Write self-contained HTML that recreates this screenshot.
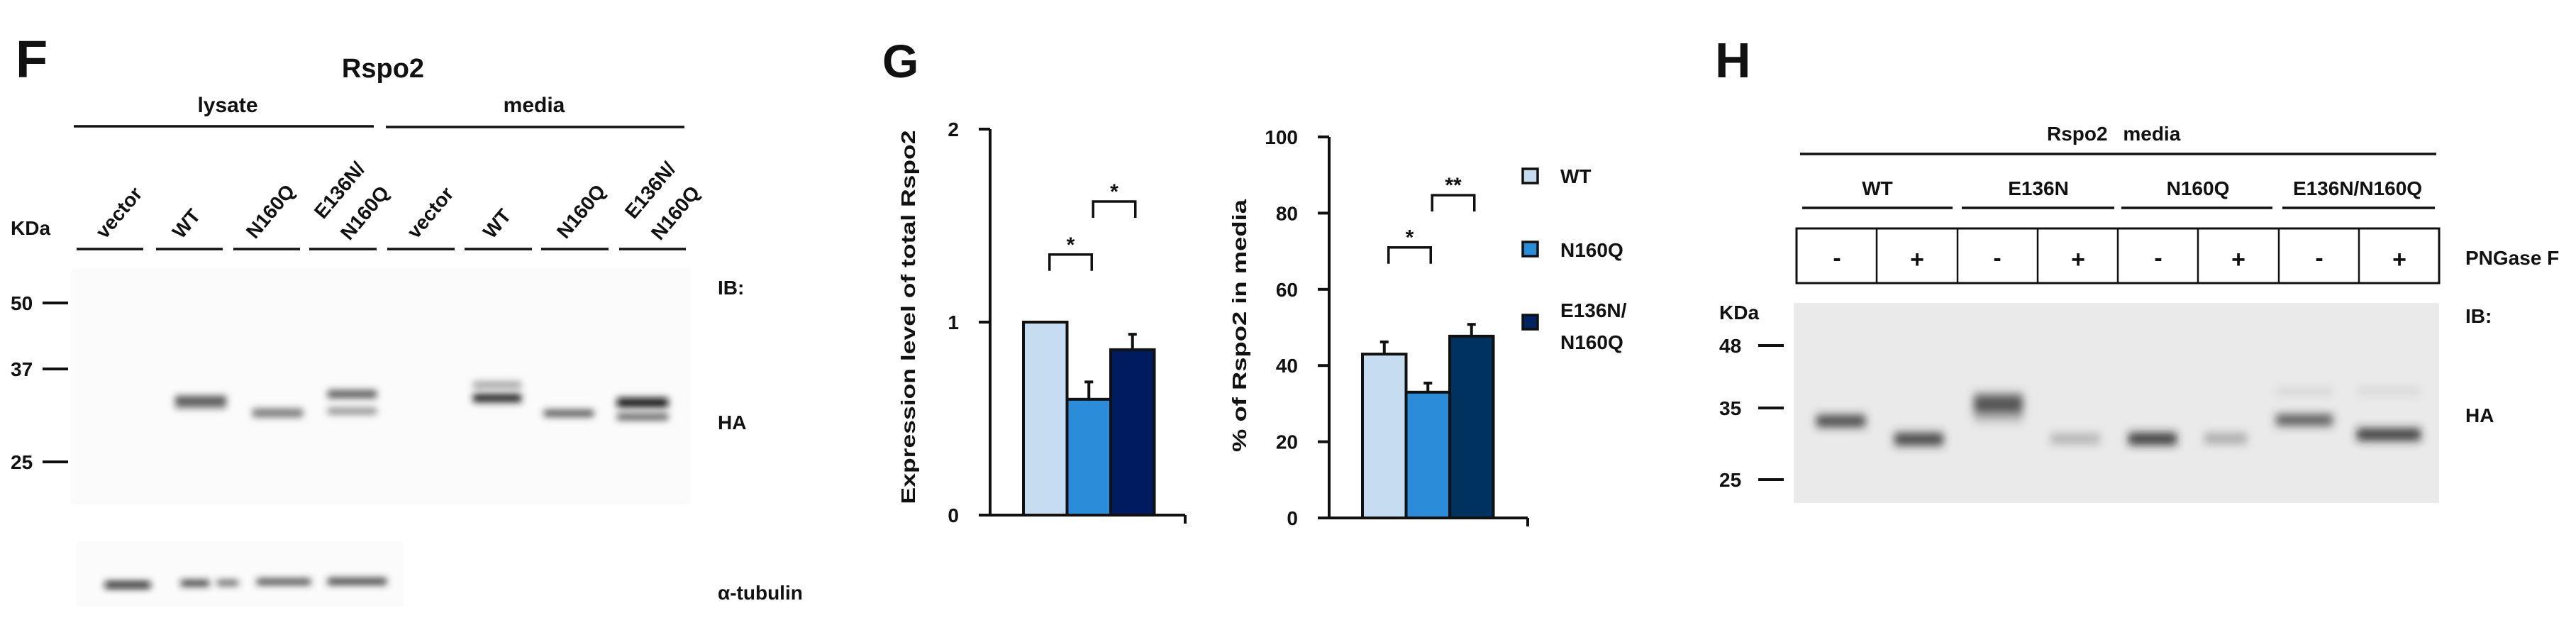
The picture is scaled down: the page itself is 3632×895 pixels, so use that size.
<!DOCTYPE html>
<html><head><meta charset="utf-8"><style>
html,body{margin:0;padding:0;background:#fff;}
svg{display:block;}
text{font-family:"Liberation Sans",sans-serif;fill:#111;font-weight:bold;}
.b{font-weight:bold;}
</style></head><body>
<svg width="3632" height="895" viewBox="0 0 3632 895" xmlns="http://www.w3.org/2000/svg">
<defs>
<filter id="blur" x="-30%" y="-200%" width="160%" height="500%"><feGaussianBlur stdDeviation="5 5"/></filter>
<filter id="blur2" x="-30%" y="-200%" width="160%" height="500%"><feGaussianBlur stdDeviation="6 7"/></filter>
</defs>

<!-- ================= Panel F ================= -->
<g>
<text x="22" y="109" class="b" font-size="74">F</text>
<text x="540" y="109" class="b" font-size="38" text-anchor="middle">Rspo2</text>
<text x="321" y="158" font-size="30" text-anchor="middle">lysate</text>
<text x="753" y="158" font-size="30" text-anchor="middle">media</text>
<line x1="104" y1="178" x2="527" y2="178" stroke="#111" stroke-width="3.5"/>
<line x1="544" y1="179" x2="965" y2="179" stroke="#111" stroke-width="3.5"/>
<g stroke="#111" stroke-width="3.5">
<line x1="108" y1="351" x2="202" y2="351"/><line x1="220" y1="351" x2="314" y2="351"/>
<line x1="329" y1="351" x2="423" y2="351"/><line x1="436" y1="351" x2="531" y2="351"/>
<line x1="546" y1="351" x2="641" y2="351"/><line x1="655" y1="351" x2="750" y2="351"/>
<line x1="763" y1="351" x2="858" y2="351"/><line x1="873" y1="351" x2="967" y2="351"/>
</g>
<g font-size="28" class="b">
<text transform="translate(148,338) rotate(-50)">vector</text>
<text transform="translate(256,338) rotate(-50)">WT</text>
<text transform="translate(360,338) rotate(-50)">N160Q</text>
<text transform="translate(456,310) rotate(-50)">E136N/</text>
<text transform="translate(493,340) rotate(-50)">N160Q</text>
<text transform="translate(587,338) rotate(-50)">vector</text>
<text transform="translate(694,338) rotate(-50)">WT</text>
<text transform="translate(798,338) rotate(-50)">N160Q</text>
<text transform="translate(894,310) rotate(-50)">E136N/</text>
<text transform="translate(931,340) rotate(-50)">N160Q</text>
</g>
<text x="15" y="331" font-size="28">KDa</text>
<g font-size="28" class="b">
<text x="15" y="437">50</text><line x1="60" y1="427" x2="96" y2="427" stroke="#111" stroke-width="4"/>
<text x="15" y="530">37</text><line x1="60" y1="520" x2="96" y2="520" stroke="#111" stroke-width="4"/>
<text x="15" y="661">25</text><line x1="60" y1="651" x2="96" y2="651" stroke="#111" stroke-width="4"/>
</g>
<rect x="100" y="379" width="873" height="332" fill="#fbfbfb"/>
<g filter="url(#blur)">
<rect x="247" y="558" width="72" height="12" fill="#555"/>
<rect x="247" y="570" width="72" height="6" fill="#888"/>
<rect x="356" y="576" width="71" height="12" fill="#777"/>
<rect x="462" y="550" width="69" height="11" fill="#555"/>
<rect x="462" y="575" width="69" height="9" fill="#888"/>
<rect x="667" y="538" width="68" height="9" fill="#999"/>
<rect x="667" y="555" width="68" height="12" fill="#222"/>
<rect x="767" y="578" width="70" height="9" fill="#444"/>
<rect x="870" y="561" width="72" height="13" fill="#111"/>
<rect x="870" y="583" width="72" height="9" fill="#555"/>
</g>
<rect x="108" y="763" width="461" height="92" fill="#fbfbfb"/>
<g filter="url(#blur)">
<rect x="148" y="820" width="64" height="9" fill="#111"/>
<rect x="255" y="818" width="40" height="8" fill="#222"/>
<rect x="306" y="818" width="30" height="7" fill="#444"/>
<rect x="362" y="816" width="76" height="8" fill="#333"/>
<rect x="462" y="815" width="83" height="9" fill="#333"/>
</g>
<text x="1012" y="415" font-size="28">IB:</text>
<text x="1012" y="605" font-size="28">HA</text>
<text x="1012" y="845" font-size="28">α-tubulin</text>
</g>

<!-- ================= Panel G ================= -->
<g>
<text x="1244" y="109" class="b" font-size="66">G</text>
<text transform="translate(1290,447) rotate(-90)" font-size="28" class="b" text-anchor="middle" textLength="527" lengthAdjust="spacingAndGlyphs">Expression level of total Rspo2</text>
<text transform="translate(1757,459) rotate(-90)" font-size="28" class="b" text-anchor="middle" textLength="356" lengthAdjust="spacingAndGlyphs">% of Rspo2 in media</text>
<g id="chartL"></g>
<g id="chartR"></g>
<g>
<rect x="2147" y="238" width="21" height="20" fill="#c6dcf1" stroke="#111" stroke-width="3.5"/>
<text x="2200" y="258" font-size="28" class="b">WT</text>
<rect x="2147" y="341" width="21" height="20" fill="#2b8cd9" stroke="#111" stroke-width="3.5"/>
<text x="2200" y="362" font-size="28" class="b">N160Q</text>
<rect x="2147" y="444" width="21" height="20" fill="#00245f" stroke="#111" stroke-width="3.5"/>
<text x="2200" y="447" font-size="28" class="b">E136N/</text>
<text x="2200" y="492" font-size="28" class="b">N160Q</text>
</g>
</g>

<!-- ================= Panel H ================= -->
<g>
<text x="2418" y="109" class="b" font-size="70">H</text>
<text x="2886" y="198" font-size="28">Rspo2 <tspan dx="14">media</tspan></text>
<line x1="2538" y1="217" x2="3435" y2="217" stroke="#111" stroke-width="3.5"/>
<g font-size="28" text-anchor="middle">
<text x="2647" y="275">WT</text><text x="2874" y="275">E136N</text>
<text x="3099" y="275">N160Q</text><text x="3324" y="275">E136N/N160Q</text>
</g>
<g stroke="#111" stroke-width="3.5">
<line x1="2541" y1="293" x2="2753" y2="293"/><line x1="2766" y1="293" x2="2981" y2="293"/>
<line x1="2991" y1="293" x2="3204" y2="293"/><line x1="3218" y1="293" x2="3433" y2="293"/>
</g>
<g>
<rect x="2533" y="322" width="906" height="77" fill="none" stroke="#111" stroke-width="3"/>
<g stroke="#111" stroke-width="2.5">
<line x1="2646" y1="322" x2="2646" y2="399"/><line x1="2760" y1="322" x2="2760" y2="399"/>
<line x1="2873" y1="322" x2="2873" y2="399"/><line x1="2986" y1="322" x2="2986" y2="399"/>
<line x1="3099" y1="322" x2="3099" y2="399"/><line x1="3213" y1="322" x2="3213" y2="399"/>
<line x1="3326" y1="322" x2="3326" y2="399"/>
</g>
<g font-size="34" class="b" text-anchor="middle">
<text x="2590" y="375">-</text><text x="2703" y="377">+</text>
<text x="2816" y="375">-</text><text x="2930" y="377">+</text>
<text x="3043" y="375">-</text><text x="3156" y="377">+</text>
<text x="3270" y="375">-</text><text x="3383" y="377">+</text>
</g>
</g>
<text x="3476" y="373" font-size="28">PNGase F</text>
<rect x="2529" y="427" width="910" height="282" fill="#eaeaea"/>
<g filter="url(#blur2)">
<rect x="2561" y="586" width="69" height="15" fill="#333"/>
<rect x="2671" y="611" width="69" height="16" fill="#333"/>
<rect x="2783" y="556" width="69" height="28" fill="#555"/>
<rect x="2783" y="585" width="69" height="10" fill="#bbb"/>
<rect x="2891" y="612" width="70" height="13" fill="#aaa"/>
<rect x="3001" y="611" width="68" height="15" fill="#222"/>
<rect x="3108" y="612" width="60" height="12" fill="#999"/>
<rect x="3209" y="548" width="80" height="8" fill="#ccc"/>
<rect x="3209" y="585" width="80" height="14" fill="#444"/>
<rect x="3323" y="548" width="90" height="7" fill="#ccc"/>
<rect x="3323" y="605" width="90" height="15" fill="#222"/>
</g>
<text x="2424" y="450" font-size="28">KDa</text>
<g font-size="28" class="b">
<text x="2424" y="497">48</text><line x1="2479" y1="487" x2="2515" y2="487" stroke="#111" stroke-width="4"/>
<text x="2424" y="585">35</text><line x1="2479" y1="575" x2="2515" y2="575" stroke="#111" stroke-width="4"/>
<text x="2424" y="686">25</text><line x1="2479" y1="676" x2="2515" y2="676" stroke="#111" stroke-width="4"/>
</g>
<text x="3476" y="455" font-size="28">IB:</text>
<text x="3476" y="595" font-size="28">HA</text>
</g>
</svg>

<script>
// ----- Chart G data -----
const categories = ["WT", "N160Q", "E136N/N160Q"];
const expressionValues = [1.0, 0.60, 0.857];
const expressionErrors = [0, 0.09, 0.08];
const mediaValues = [43.0, 33.0, 47.7];
const mediaErrors = [3.2, 2.4, 3.1];
const expressionTicks = [0, 1, 2];
const mediaTicks = [0, 20, 40, 60, 80, 100];
const expressionSig = [{from: 0, to: 1, level: 1.35, label: "*"}, {from: 1, to: 2, level: 1.625, label: "*"}];
const mediaSig = [{from: 0, to: 1, level: 71, label: "*"}, {from: 1, to: 2, level: 84.7, label: "**"}];

const NS = "http://www.w3.org/2000/svg";
function mk(tag, attrs, parent) {
  const e = document.createElementNS(NS, tag);
  for (const k in attrs) e.setAttribute(k, attrs[k]);
  parent.appendChild(e);
  return e;
}

function drawChart(g, cfg) {
  const y = v => cfg.y0 - (v - 0) / cfg.max * (cfg.y0 - cfg.yTop);
  const x = i => cfg.barX0 + i * cfg.barW;
  const ya = mk("line", {x1: cfg.axisX, y1: y(cfg.max), x2: cfg.axisX, y2: cfg.y0 + 2, stroke: "#111", "stroke-width": 4}, g);
  
  
  const xa = mk("line", {x1: cfg.axisX - 16, y1: cfg.y0, x2: cfg.xEnd, y2: cfg.y0, stroke: "#111", "stroke-width": 4}, g);
  
  
  const xt = mk("line", {x1: cfg.xEnd, y1: cfg.y0, x2: cfg.xEnd, y2: cfg.y0 + 12, stroke: "#111", "stroke-width": 4}, g);
  
  
  cfg.ticks.forEach(t => {
    const tl = mk("line", {x1: cfg.axisX - 16, y1: y(t), x2: cfg.axisX, y2: y(t), stroke: "#111", "stroke-width": 4}, g);
    
    
    const tx = mk("text", {x: cfg.labelX, y: y(t) + 10, "font-size": 28, "font-weight": "bold", "text-anchor": "end"}, g);
    tx.textContent = String(t);
    
    
  });
  cfg.values.forEach((v, i) => {
    const top = y(v);
    if (cfg.errors[i] > 0) {
      const et = y(v + cfg.errors[i]);
      const el = mk("line", {x1: x(i) + cfg.barW / 2, y1: top, x2: x(i) + cfg.barW / 2, y2: et, stroke: "#111", "stroke-width": 4}, g);
      
      
      const ec = mk("line", {x1: x(i) + cfg.barW / 2 - 6, y1: et, x2: x(i) + cfg.barW / 2 + 6, y2: et, stroke: "#111", "stroke-width": 4}, g);
      
      
    }
    const r = mk("rect", {x: x(i), y: top, width: cfg.barW, height: cfg.y0 - top, fill: cfg.colors[i], stroke: "#111", "stroke-width": 4}, g);
    
    
  });
  cfg.sig.forEach(s => {
    const xa1 = x(s.from) + cfg.barW / 2 + 6, xa2 = x(s.to) + cfg.barW / 2 + 4;
    const yt = y(s.level), yb = yt + 23;
    const p = mk("path", {d: `M${xa1},${yb} L${xa1},${yt} L${xa2},${yt} L${xa2},${yb}`, fill: "none", stroke: "#111", "stroke-width": 3.5}, g);
    
    
    const st = mk("text", {x: (xa1 + xa2) / 2, y: yt - 4, "font-size": 30, "font-weight": "bold", "text-anchor": "middle"}, g);
    st.textContent = s.label;
    
    
  });
}

drawChart(document.getElementById("chartL"), {
  values: expressionValues, errors: expressionErrors, ticks: expressionTicks, sig: expressionSig,
  max: 2, y0: 726, yTop: 182, axisX: 1396, xEnd: 1671, labelX: 1352,
  barX0: 1443, barW: 61.5, colors: ["#c6dcf1", "#2b8cd9", "#001b5f"]
});
drawChart(document.getElementById("chartR"), {
  values: mediaValues, errors: mediaErrors, ticks: mediaTicks, sig: mediaSig,
  max: 100, y0: 730, yTop: 193, axisX: 1874, xEnd: 2154, labelX: 1830,
  barX0: 1921, barW: 61.5, colors: ["#c6dcf1", "#2b8cd9", "#00325f"]
});
</script>
</body></html>
